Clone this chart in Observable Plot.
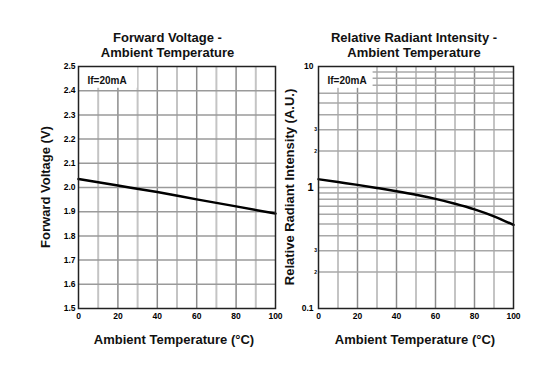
<!DOCTYPE html>
<html>
<head>
<meta charset="utf-8">
<script src="https://cdn.jsdelivr.net/npm/d3@7"></script>
<script src="https://cdn.jsdelivr.net/npm/@observablehq/plot@0.6"></script>
<style>
  html, body { margin: 0; padding: 0; background: #fff; }
  #wrap { position: relative; width: 545px; height: 366px; font-family: "Liberation Sans", Arial, sans-serif; font-weight: bold; color: #111; }
  .pl { position: absolute; top: 0; }
  .t { position: absolute; white-space: nowrap; font-size: 13px; transform: translate(-50%, -50%); text-align: center; }
  .r { transform: translate(-50%, -50%) rotate(-90deg); }
</style>
</head>
<body>
<div id="wrap"></div>
<script>
// ---- data ----
const temps = [0, 20, 40, 60, 80, 100];
const forwardVoltage = [2.035, 2.008, 1.981, 1.951, 1.922, 1.892];
const tempsRI = [0, 10, 20, 30, 40, 50, 60, 70, 80, 90, 100];
const relIntensity = [1.17, 1.108, 1.051, 0.991, 0.932, 0.871, 0.805, 0.734, 0.66, 0.578, 0.49];

const xTicks = [0, 20, 40, 60, 80, 100];
const xGridLight = [10, 30, 50, 70, 90];
const xGridDark = [20, 40, 60, 80];
const vfTicks = [1.5, 1.6, 1.7, 1.8, 1.9, 2.0, 2.1, 2.2, 2.3, 2.4, 2.5];
const logMajor = [0.1, 10];
const logOne = [1];
const logMinor = [0.2, 0.3, 0.4, 0.5, 0.6, 0.7, 0.8, 0.9, 2, 3, 4, 5, 6, 7, 8, 9];
const condition = "If=20mA";

const titles = [
  {text: "Forward Voltage -<br>Ambient Temperature", x: 167.5, y: 45},
  {text: "Relative Radiant Intensity -<br>Ambient Temperature", x: 414, y: 45}
];
const xLabel = "Ambient Temperature (°C)";
const yLabelLeft = "Forward Voltage (V)";
const yLabelRight = "Relative Radiant Intensity (A.U.)";

const vfData = temps.map((t, i) => ({t, v: forwardVoltage[i]}));
const riData = tempsRI.map((t, i) => ({t, v: relIntensity[i]}));

const wrap = document.getElementById("wrap");
const baseStyle = {fontFamily: "Liberation Sans, Arial, sans-serif", fontWeight: "bold", fontSize: "8.5px", background: "transparent", color: "#000", overflow: "visible"};

// ---- left chart ----
const left = Plot.plot({
  width: 290, height: 366,
  marginLeft: 78, marginRight: 15, marginTop: 66, marginBottom: 58,
  style: baseStyle,
  x: {domain: [0, 100], axis: null},
  y: {domain: [1.5, 2.5], axis: null},
  marks: [
    Plot.gridX(xGridLight, {stroke: "#c4c4c4", strokeOpacity: 1, strokeWidth: 2}),
    Plot.gridX(xGridDark, {stroke: "#8c8c8c", strokeOpacity: 1, strokeWidth: 1.5}),
    Plot.gridY(vfTicks.slice(1, -1), {stroke: "#9a9a9a", strokeOpacity: 1, strokeWidth: 1.5}),
    Plot.rect([condition], {x1: 0, x2: 30, y1: 2.41, y2: 2.5, fill: "white"}),
    Plot.text([condition], {frameAnchor: "top-left", dx: 9, dy: 10, text: d => d, fontSize: 10, fill: "#111"}),
    Plot.line(vfData, {x: "t", y: "v", stroke: "#000", strokeWidth: 2.5, curve: "monotone-x"}),
    Plot.frame({stroke: "#222", strokeWidth: 1.5}),
    Plot.axisX(xTicks, {tickSize: 0, tickPadding: 4, label: null, tickFormat: d => d}),
    Plot.axisY(vfTicks, {tickSize: 0, tickPadding: 3, label: null, tickFormat: d3.format(".1f")})
  ]
});
left.classList.add("pl");
left.style.left = "0px";
wrap.appendChild(left);

// ---- right chart ----
const fmtMinor = d => d < 1 ? String(Math.round(d * 10)) : String(d);
const right = Plot.plot({
  width: 273, height: 366,
  marginLeft: 46, marginRight: 32, marginTop: 66, marginBottom: 58,
  style: baseStyle,
  x: {domain: [0, 100], axis: null},
  y: {type: "log", domain: [0.1, 10], axis: null},
  marks: [
    Plot.gridX(xGridLight, {stroke: "#c4c4c4", strokeOpacity: 1, strokeWidth: 2}),
    Plot.gridX(xGridDark, {stroke: "#8c8c8c", strokeOpacity: 1, strokeWidth: 1.5}),
    Plot.gridY(logMinor.concat(logOne), {stroke: "#a8a8a8", strokeOpacity: 1, strokeWidth: 1.5}),
    Plot.rect([condition], {x1: 0, x2: 28, y1: 6.6, y2: 10, fill: "white"}),
    Plot.text([condition], {frameAnchor: "top-left", dx: 9, dy: 10, text: d => d, fontSize: 10, fill: "#111"}),
    Plot.line(riData, {x: "t", y: "v", stroke: "#000", strokeWidth: 2.5, curve: "monotone-x"}),
    Plot.frame({stroke: "#222", strokeWidth: 1.5}),
    Plot.axisX(xTicks, {tickSize: 0, tickPadding: 4, label: null, tickFormat: d => d}),
    Plot.axisY(logMajor, {tickSize: 0, tickPadding: 5, label: null, tickFormat: d => String(d)}),
    Plot.axisY(logOne, {tickSize: 0, tickPadding: 5, label: null, fontSize: 11, tickFormat: d => String(d)}),
    Plot.axisY(logMinor, {tickSize: 0, tickPadding: 1.5, label: null, fontSize: 5, tickFormat: fmtMinor})
  ]
});
right.classList.add("pl");
right.style.left = "272px";
wrap.appendChild(right);

// ---- text ----
function addText(html, x, y, cls) {
  const d = document.createElement("div");
  d.className = "t" + (cls ? " " + cls : "");
  d.innerHTML = html;
  d.style.left = x + "px";
  d.style.top = y + "px";
  wrap.appendChild(d);
}
titles.forEach(t => addText(t.text, t.x, t.y));
addText(xLabel, 174, 339);
addText(xLabel, 415, 339);
addText(yLabelLeft, 45, 187, "r");
addText(yLabelRight, 289, 187, "r");
</script>
</body>
</html>
